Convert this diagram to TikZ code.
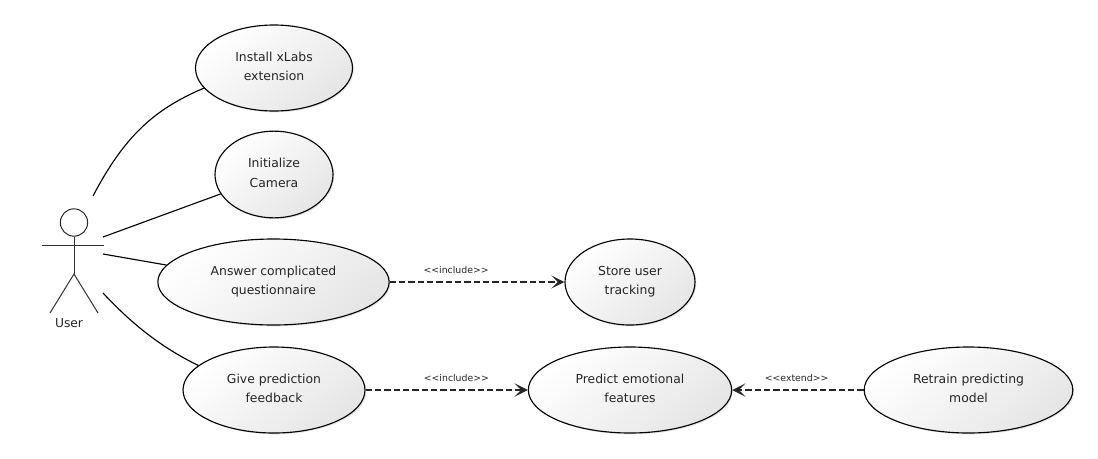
\documentclass[tikz,border=0pt]{standalone}
\usepackage{fontspec}
\setmainfont{DejaVu Sans}
\usetikzlibrary{shapes.geometric,arrows.meta,shadows}
\newcommand\uctext[2]{\strut #1\\#2\vrule width 0pt depth 5.85pt height 1pt}
\tikzset{
  usecase/.style={ellipse,draw=black,line width=0.85pt,inner sep=0pt,align=center,
    font=\fontsize{9.3pt}{14.5pt}\selectfont,text=black!85,
    top color=white,bottom color=black!10,shading angle=40,
    drop shadow={shadow xshift=1pt,shadow yshift=-1pt,opacity=0.10,fill=black}},
  assoc/.style={draw=black,line width=0.85pt},
  actorline/.style={draw=black!80,line width=0.75pt},
  relation/.style={draw=black!85,line width=0.82pt,dash pattern=on 4.8pt off 2.2pt,
    -{Stealth[length=10pt,width=10pt,inset=5pt]}},
  stereo/.style={font=\fontsize{7pt}{8pt}\selectfont,inner sep=0pt,text=black!85}
}
\begin{document}
\begin{tikzpicture}[x=0.75pt,y=-0.75pt]
\useasboundingbox (0,0) rectangle (1098,458);
\node[usecase,minimum width=117.75pt,minimum height=64.5pt] (install) at (274,68) {\uctext{Install xLabs}{extension}};
\node[usecase,minimum width=88.5pt,minimum height=65pt] (camera) at (274,174.5) {\uctext{Initialize}{Camera}};
\node[usecase,minimum width=173.5pt,minimum height=64.5pt] (answer) at (273.5,282) {\uctext{Answer complicated}{questionnaire}};
\node[usecase,minimum width=97.5pt,minimum height=64.5pt] (store) at (630,282) {\uctext{Store user}{tracking}};
\node[usecase,minimum width=136.5pt,minimum height=64.5pt] (give) at (274,390) {\uctext{Give prediction}{feedback}};
\node[usecase,minimum width=152.5pt,minimum height=64.5pt] (predict) at (630,390) {\uctext{Predict emotional}{features}};
\node[usecase,minimum width=156.5pt,minimum height=64.5pt] (retrain) at (968.5,390) {\uctext{Retrain predicting}{model}};
% actor
\node[circle,draw=black!85,line width=0.75pt,minimum size=20.5pt,inner sep=0pt] (head) at (74,222.5) {};
\coordinate (hip) at (74,274);
\coordinate (armL) at (42,245);
\coordinate (armR) at (104,245);
\coordinate (legL) at (50,313);
\coordinate (legR) at (98,313);
\draw[actorline] (head.south) -- (hip);
\draw[actorline] (armL) -- (armR);
\draw[actorline] (legL) -- (hip) -- (legR);
\node[font=\fontsize{9.2pt}{11pt}\selectfont,inner sep=0pt,text=black!85] (user) at (69,323) {User};
% associations
\coordinate (a1) at (93,196);
\coordinate (a2) at (103,237);
\coordinate (a3) at (103,254);
\coordinate (a4) at (103,293);
\draw[assoc] (a1) .. controls (125,135) and (155,109) .. (install.196);
\draw[assoc] (a2) -- (camera.200);
\draw[assoc] (a3) -- (answer.171);
\draw[assoc] (a4) .. controls (130,322) and (160,347) .. (give.162);
% relations
\draw[relation] (answer.east) -- node[stereo,above,yshift=6pt,pos=0.38] (l1) {<{}<include>{}>} (store.west);
\draw[relation] (give.east) -- node[stereo,above,yshift=6pt,pos=0.56] (l2) {<{}<include>{}>} (predict.west);
\draw[relation] (retrain.west) -- node[stereo,above,yshift=6pt,pos=0.51] (l3) {<{}<extend>{}>} (predict.east);
\end{tikzpicture}
\end{document}
